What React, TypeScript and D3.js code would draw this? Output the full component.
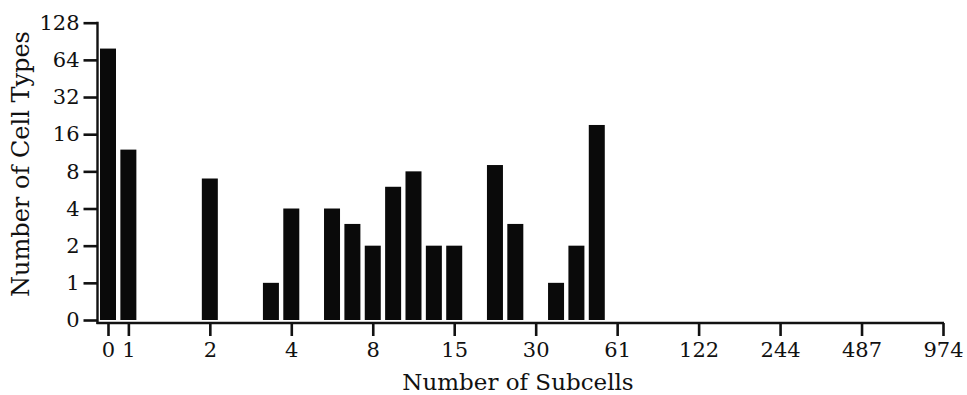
import React, { useEffect, useRef } from "react";
import * as d3 from "d3";

// bins are quarter-octave steps along the subcell axis (0 and 1 get one bin each)
const binIndex = [0, 1, 5, 8, 9, 11, 12, 13, 14, 15, 16, 17, 19, 20, 22, 23, 24];
const cellTypeCounts = [79, 12, 7, 1, 4, 4, 3, 2, 6, 8, 2, 2, 9, 3, 1, 2, 19];

const xTickBins = [0, 1, 5, 9, 13, 17, 21, 25, 29, 33, 37, 41];
const xTickLabels = ["0", "1", "2", "4", "8", "15", "30", "61", "122", "244", "487", "974"];
const yTickValues = [0, 1, 2, 4, 8, 16, 32, 64, 128];

const FONT = "'DejaVu Serif', serif";

// 0 sits one step below 1, everything else is log2
const yIndex = (v: number) => (v <= 0 ? 0 : Math.log2(v) + 1);

const App = () => {
  const svgRef = useRef<SVGSVGElement>(null);

  useEffect(() => {
    const width = 967;
    const height = 395;

    const svg = d3.select(svgRef.current).attr("width", width).attr("height", height);
    svg.selectAll("*").remove();

    const x = d3.scaleLinear().domain([0, 41]).range([108, 943]);
    const y = d3.scaleLinear().domain([0, 8]).range([320, 22.7]);
    const barWidth = 16;
    const axisY = 323;
    const axisX = 97.5;

    // bars
    svg
      .append("g")
      .selectAll("rect")
      .data(binIndex)
      .join("rect")
      .attr("x", (d) => x(d) - barWidth / 2)
      .attr("width", barWidth)
      .attr("y", (d, i) => y(yIndex(cellTypeCounts[i])))
      .attr("height", (d, i) => y(0) - y(yIndex(cellTypeCounts[i])))
      .attr("fill", "#0a0a0a");

    // y axis
    const yAxis = d3
      .axisLeft(y)
      .tickValues(yTickValues.map(yIndex))
      .tickFormat((d, i) => String(yTickValues[i]))
      .tickSize(14)
      .tickPadding(4);

    const gy = svg
      .append("g")
      .attr("transform", `translate(${axisX},0)`)
      .call(yAxis);
    gy.select(".domain").remove();
    gy.selectAll(".tick line").attr("stroke", "#111").attr("stroke-width", 2.6);
    gy.selectAll(".tick text")
      .attr("font-family", FONT)
      .attr("font-size", 21)
      .attr("fill", "#111");
    gy.append("line")
      .attr("x1", 0)
      .attr("x2", 0)
      .attr("y1", y(8) - 1)
      .attr("y2", axisY + 1)
      .attr("stroke", "#111")
      .attr("stroke-width", 2.4);

    // x axis
    const xAxis = d3
      .axisBottom(x)
      .tickValues(xTickBins)
      .tickFormat((d, i) => xTickLabels[i])
      .tickSize(13)
      .tickPadding(6);

    const gx = svg
      .append("g")
      .attr("transform", `translate(0,${axisY})`)
      .call(xAxis);
    gx.select(".domain").remove();
    gx.selectAll(".tick line").attr("stroke", "#111").attr("stroke-width", 2.6);
    gx.selectAll(".tick text")
      .attr("font-family", FONT)
      .attr("font-size", 21)
      .attr("fill", "#111");
    gx.append("line")
      .attr("x1", axisX - 1)
      .attr("x2", x(41) + 1)
      .attr("y1", 0)
      .attr("y2", 0)
      .attr("stroke", "#111")
      .attr("stroke-width", 2.4);

    // titles
    svg
      .append("text")
      .attr("x", 518)
      .attr("y", 390)
      .attr("text-anchor", "middle")
      .attr("font-family", FONT)
      .attr("font-size", 23)
      .attr("fill", "#111")
      .text("Number of Subcells");

    svg
      .append("text")
      .attr("transform", `translate(29,164) rotate(-90)`)
      .attr("text-anchor", "middle")
      .attr("font-family", FONT)
      .attr("font-size", 24)
      .attr("fill", "#111")
      .text("Number of Cell Types");
  }, []);

  return (
    <div style={{ position: "absolute", left: 0, top: 0 }}>
      <svg ref={svgRef}></svg>
    </div>
  );
};

export default App;
